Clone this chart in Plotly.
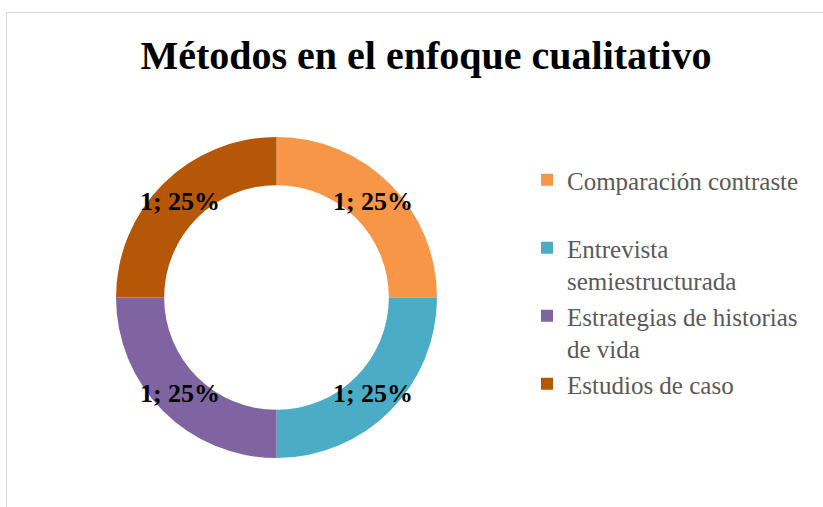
import plotly.graph_objects as go

categories = ["Comparación contraste", "Entrevista semiestructurada",
              "Estrategias de historias de vida", "Estudios de caso"]
legend_labels = ["Comparación contraste<br> ", "Entrevista<br>semiestructurada",
                 "Estrategias de historias<br>de vida", "Estudios de caso"]
values = [1, 1, 1, 1]
colors = ["#F79646", "#4BACC6", "#8064A2", "#B65708"]
title_text = "Métodos en el enfoque cualitativo"

W, H = 823, 507

fig = go.Figure(go.Pie(
    labels=legend_labels,
    values=values,
    customdata=categories,
    hole=0.70,
    sort=False,
    direction="clockwise",
    rotation=0,
    marker=dict(colors=colors, line=dict(width=0)),
    texttemplate="%{value}; %{percent:.0%}",
    textposition="inside",
    insidetextorientation="horizontal",
    textfont=dict(family="Liberation Serif", size=26, color="#000000", weight="bold"),
    domain=dict(x=[116 / W, 437 / W], y=[1 - 458 / H, 1 - 137 / H]),
    hoverinfo="label+value+percent",
))

fig.update_layout(
    width=W, height=H,
    margin=dict(l=0, r=0, t=0, b=0),
    paper_bgcolor="white",
    plot_bgcolor="white",
    title=dict(text=title_text, x=426 / W, xanchor="center", y=1 - 55 / H, yanchor="middle",
               font=dict(family="Liberation Serif", size=40, color="#000000", weight="bold")),
    uniformtext=dict(minsize=26, mode="show"),
    showlegend=True,
    legend=dict(x=527 / W, xanchor="left", y=1 - 157 / H, yanchor="top",
                font=dict(family="Liberation Serif", size=25, color="#595959"),
                valign="top", itemwidth=30, bgcolor="rgba(0,0,0,0)"),
    shapes=[dict(type="rect", xref="paper", yref="paper",
                 x0=6.5 / W, x1=1.01, y0=-0.01, y1=1 - 12.5 / H,
                 line=dict(color="#D9D9D9", width=1), fillcolor="rgba(0,0,0,0)", layer="below")],
)

fig.write_html("out.html", config={"displayModeBar": False},
               post_script="document.body.style.margin='0';")
